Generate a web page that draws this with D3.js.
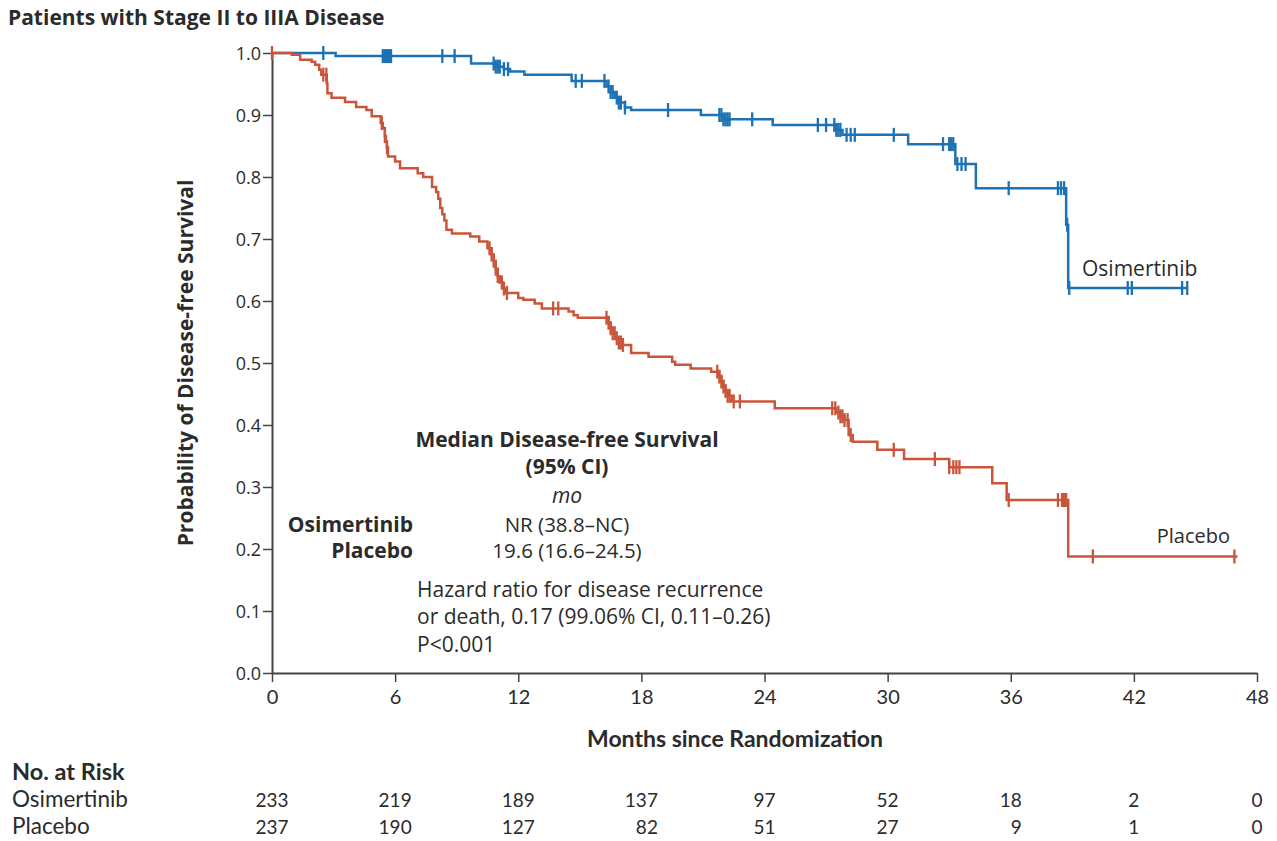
<!DOCTYPE html>
<html>
<head>
<meta charset="utf-8">
<script src="https://cdn.jsdelivr.net/npm/d3@7/dist/d3.min.js"></script>
<style>
  html, body { margin: 0; padding: 0; background: #fff; }
  svg { display: block; font-family: "Open Sans", Lato, sans-serif; }
</style>
</head>
<body>
<svg id="chart" width="1277" height="841"></svg>
<script>
// Kaplan-Meier estimates: step times (months) and survival after each step
const osiTimes = [0, 3.1, 9.7, 10.9, 11.3, 11.6, 12.3, 14.6, 16.3, 16.5, 16.7, 16.9, 17.2, 17.5,
  20.9, 22.0, 24.4, 27.5, 27.8, 31.0, 33.3, 34.3, 38.7, 38.8];
const osiSurv = [1.0, 0.995, 0.983, 0.978, 0.974, 0.970, 0.965, 0.955, 0.946, 0.937, 0.928, 0.920, 0.912, 0.908,
  0.900, 0.893, 0.884, 0.876, 0.868, 0.853, 0.821, 0.782, 0.723, 0.621];
const osiEnd = 44.6;
const osiCensor = [2.5, 5.4, 5.5, 5.6, 5.7, 5.8, 8.3, 8.9, 10.8, 10.9, 11.0, 11.1, 11.3, 11.5,
  14.8, 15.1, 16.2, 16.4, 16.5, 16.6, 16.8, 16.9, 17.0, 17.2, 19.3,
  21.8, 21.9, 22.0, 22.1, 22.2, 22.3, 23.4, 26.6, 27.0, 27.4, 27.5, 27.6, 27.7, 28.0, 28.2, 28.4,
  30.3, 32.7, 33.0, 33.1, 33.2, 33.4, 33.6, 33.8, 35.9, 38.3, 38.45, 38.6, 38.75, 38.85,
  41.7, 41.9, 44.35, 44.6];

const plaTimes = [0, 0.96, 1.37, 1.93, 2.1, 2.3, 2.4, 2.67, 2.7, 2.9, 3.56, 4.1, 4.6, 4.86,
  5.3, 5.4, 5.5, 5.55, 5.6, 5.65, 6.0, 6.24, 7.1, 7.37, 7.8, 8.0, 8.1, 8.2, 8.3, 8.4,
  8.5, 8.77, 9.66, 10.1, 10.5, 10.7, 10.8, 10.9, 11.0, 11.1, 11.25, 11.4,
  12.0, 12.25, 12.8, 13.15, 14.45, 14.7, 14.9, 16.4, 16.5, 16.6, 16.75, 16.9, 17.1,
  17.5, 18.35, 19.5, 19.65, 20.4, 21.4, 21.8, 21.9, 22.0, 22.1, 22.2, 22.4,
  24.5, 27.5, 27.7, 27.9, 28.1, 28.3, 29.5, 30.8, 33.0, 35.1, 35.8, 38.8];
const plaSurv = [1.0, 0.997, 0.989, 0.986, 0.981, 0.973, 0.965, 0.951, 0.935, 0.928, 0.921, 0.913, 0.908, 0.898,
  0.887, 0.879, 0.866, 0.857, 0.848, 0.833, 0.825, 0.814, 0.806, 0.800, 0.784, 0.776, 0.765, 0.750, 0.740, 0.730,
  0.715, 0.709, 0.704, 0.696, 0.685, 0.675, 0.665, 0.652, 0.640, 0.630, 0.620, 0.613,
  0.605, 0.602, 0.596, 0.588, 0.583, 0.577, 0.573, 0.565, 0.556, 0.548, 0.540, 0.533, 0.529,
  0.516, 0.510, 0.502, 0.497, 0.491, 0.486, 0.478, 0.470, 0.462, 0.455, 0.447, 0.438,
  0.427, 0.420, 0.414, 0.408, 0.384, 0.373, 0.360, 0.345, 0.332, 0.306, 0.279, 0.188];
const plaEnd = 47.05;
const plaCensor = [0, 2.5, 2.65, 5.35, 5.5, 5.6, 10.6, 10.7, 10.8, 10.9, 11.0, 11.2, 11.3, 11.45,
  13.7, 13.95, 16.3, 16.4, 16.5, 16.6, 16.7, 16.8, 16.9, 17.0, 17.1,
  21.7, 21.8, 21.9, 22.0, 22.1, 22.2, 22.3, 22.5, 22.8,
  27.3, 27.45, 27.6, 27.7, 27.8, 27.9, 28.05, 28.2, 30.3, 32.3, 33.0, 33.2, 33.35, 33.5,
  35.9, 38.3, 38.5, 38.6, 38.7, 40.0, 46.9];

const xTicks = [0, 6, 12, 18, 24, 30, 36, 42, 48];
const yTicks = [0, 0.1, 0.2, 0.3, 0.4, 0.5, 0.6, 0.7, 0.8, 0.9, 1.0];
const riskOsi = [233, 219, 189, 137, 97, 52, 18, 2, 0];
const riskPla = [237, 190, 127, 82, 51, 27, 9, 1, 0];

const BLUE = "#1c72b4";
const RED = "#c9553a";
const INK = "#2b2b2b";
const NARROW = "Lato, sans-serif";

const svg = d3.select("#chart");
const x = d3.scaleLinear().domain([0, 48]).range([272, 1257]);
const y = d3.scaleLinear().domain([0, 1]).range([673, 53]);

// Title
svg.append("text").attr("x", 8).attr("y", 25)
  .attr("font-size", 21).attr("font-weight", 700).attr("fill", INK)
  .text("Patients with Stage II to IIIA Disease");

// Axes
const yAxis = svg.append("g").attr("transform", `translate(${x(0)},0)`)
  .call(d3.axisLeft(y).tickValues(yTicks).tickFormat(d3.format(".1f")).tickSize(9).tickSizeOuter(0));
const xAxis = svg.append("g").attr("transform", `translate(0,${y(0)})`)
  .call(d3.axisBottom(x).tickValues(xTicks).tickSize(9).tickSizeOuter(0));
[xAxis, yAxis].forEach(g => {
  g.select(".domain").attr("stroke", "#444").attr("stroke-width", 2);
  g.selectAll(".tick line").attr("stroke", "#444").attr("stroke-width", 1.5);
  g.selectAll(".tick text").attr("fill", INK);
});
yAxis.selectAll(".tick text").attr("font-family", "'Open Sans', sans-serif")
  .attr("font-size", 18).attr("x", -11).attr("dy", "0.35em");
xAxis.selectAll(".tick text").attr("font-family", NARROW)
  .attr("font-size", 20).attr("y", 17).attr("dy", "0.71em");

// Axis titles
svg.append("text")
  .attr("transform", `translate(193,${y(0.5)}) rotate(-90)`)
  .attr("text-anchor", "middle").attr("font-size", 21).attr("font-weight", 700).attr("fill", INK)
  .text("Probability of Disease-free Survival");
svg.append("text").attr("x", 735).attr("y", 747)
  .attr("text-anchor", "middle").attr("font-family", NARROW)
  .attr("font-size", 23).attr("font-weight", 700).attr("fill", INK)
  .text("Months since Randomization");

// Survival curves
function stepValue(times, surv, t) {
  let v = surv[0];
  for (let i = 0; i < times.length; i++) { if (times[i] <= t) v = surv[i]; }
  return v;
}
function drawCurve(times, surv, end, censor, color) {
  const pts = times.map((t, i) => [t, surv[i]]);
  pts.push([end, surv[surv.length - 1]]);
  const line = d3.line().x(d => x(d[0])).y(d => y(d[1])).curve(d3.curveStepAfter);
  svg.append("path").datum(pts).attr("d", line)
    .attr("fill", "none").attr("stroke", color).attr("stroke-width", 2.5);
  svg.append("g").selectAll("line").data(censor).join("line")
    .attr("x1", d => x(d)).attr("x2", d => x(d))
    .attr("y1", d => y(stepValue(times, surv, d)) - 7)
    .attr("y2", d => y(stepValue(times, surv, d)) + 7)
    .attr("stroke", color).attr("stroke-width", 2.3);
}
drawCurve(osiTimes, osiSurv, osiEnd, osiCensor, BLUE);
drawCurve(plaTimes, plaSurv, plaEnd, plaCensor, RED);

// Curve labels
svg.append("text").attr("x", 1082).attr("y", 276).attr("font-size", 21).attr("fill", INK).text("Osimertinib");
svg.append("text").attr("x", 1230).attr("y", 543).attr("text-anchor", "end").attr("font-size", 20).attr("fill", INK).text("Placebo");

// Median summary block
const ann = svg.append("g").attr("fill", INK).attr("font-size", 21);
ann.append("text").attr("x", 567).attr("y", 447).attr("text-anchor", "middle").attr("font-weight", 700).text("Median Disease-free Survival");
ann.append("text").attr("x", 567).attr("y", 474).attr("text-anchor", "middle").attr("font-weight", 700).text("(95% CI)");
ann.append("text").attr("x", 567).attr("y", 503).attr("text-anchor", "middle").attr("font-style", "italic").text("mo");
ann.append("text").attr("x", 413).attr("y", 532).attr("text-anchor", "end").attr("font-weight", 700).text("Osimertinib");
ann.append("text").attr("x", 413).attr("y", 558).attr("text-anchor", "end").attr("font-weight", 700).text("Placebo");
ann.append("text").attr("x", 567).attr("y", 532).attr("text-anchor", "middle").attr("font-size", 20.5).text("NR (38.8\u2013NC)");
ann.append("text").attr("x", 567).attr("y", 558).attr("text-anchor", "middle").attr("font-size", 20.5).text("19.6 (16.6\u201324.5)");
ann.append("text").attr("x", 417).attr("y", 597).attr("font-size", 21).text("Hazard ratio for disease recurrence");
ann.append("text").attr("x", 417).attr("y", 624).attr("font-size", 21).text("or death, 0.17 (99.06% CI, 0.11\u20130.26)");
ann.append("text").attr("x", 417).attr("y", 652).attr("font-size", 21).text("P<0.001");

// Number at risk table
const risk = svg.append("g").attr("fill", INK).attr("font-family", NARROW);
risk.append("text").attr("x", 12).attr("y", 780).attr("font-size", 23.5).attr("font-weight", 700).text("No. at Risk");
risk.append("text").attr("x", 12).attr("y", 807).attr("font-size", 22.5).text("Osimertinib");
risk.append("text").attr("x", 12).attr("y", 834).attr("font-size", 22.5).text("Placebo");
// each column: numbers right-aligned to each other, block centred on the tick
const measure = svg.append("text").attr("font-family", NARROW).attr("font-size", 19).attr("visibility", "hidden");
function textWidth(s) { measure.text(s); return measure.node().getComputedTextLength(); }
xTicks.forEach((t, i) => {
  const w = Math.max(textWidth(String(riskOsi[i])), textWidth(String(riskPla[i])));
  const right = x(t) + w / 2;
  risk.append("text").attr("x", right).attr("y", 807).attr("font-size", 19).attr("text-anchor", "end").text(riskOsi[i]);
  risk.append("text").attr("x", right).attr("y", 834).attr("font-size", 19).attr("text-anchor", "end").text(riskPla[i]);
});
measure.remove();
</script>
</body>
</html>
